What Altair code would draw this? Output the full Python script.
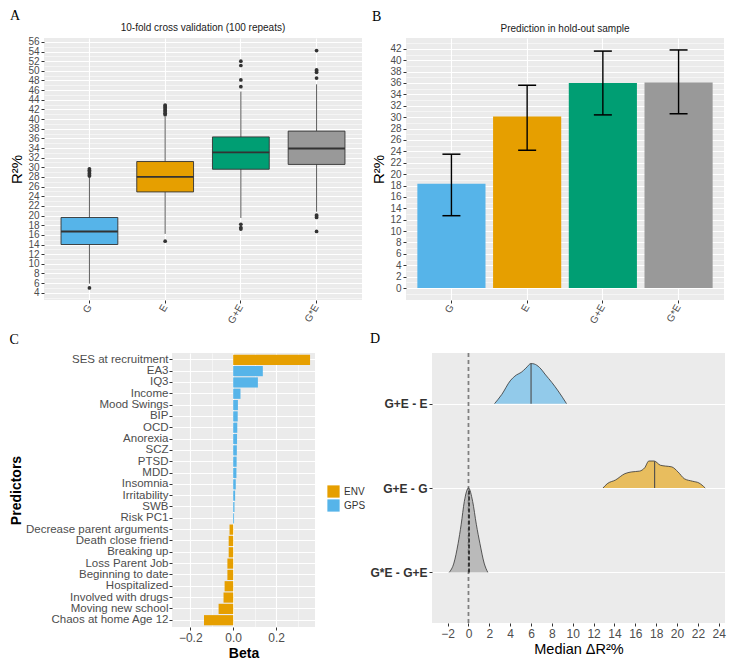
import altair as alt
import pandas as pd
import numpy as np

# ---------------- Panel A : 10-fold CV boxplots ----------------
categories = ["G", "E", "G+E", "G*E"]
fill_colors = ["#56B4E9", "#E69F00", "#009E73", "#999999"]
cv_q1 = [14.0, 24.9, 29.6, 30.6]
cv_median = [16.7, 28.0, 33.1, 33.9]
cv_q3 = [19.6, 31.2, 36.3, 37.5]
cv_whisker_lo = [5.9, 16.2, 19.5, 20.8]
cv_whisker_hi = [28.0, 40.5, 45.7, 47.2]
cv_outliers_G = [5.0, 28.2, 28.4, 28.7, 29.1, 29.4, 29.7]
cv_outliers_E = [14.7, 40.9, 41.2, 41.5, 41.8, 42.1, 42.4, 42.7, 42.9]
cv_outliers_GpE = [17.2, 17.5, 18.2, 46.7, 48.1, 51.1, 52.0]
cv_outliers_GxE = [16.7, 19.6, 19.9, 20.1, 48.5, 49.7, 50.0, 50.2, 54.2]

# ---------------- Panel B : hold-out prediction ----------------
ho_r2 = [18.3, 30.1, 36.0, 36.1]
ho_lo = [12.7, 24.2, 30.4, 30.6]
ho_hi = [23.5, 35.6, 41.6, 41.8]

# ---------------- Panel C : predictor betas ----------------
predictors = ["SES at recruitment", "EA3", "IQ3", "Income", "Mood Swings", "BIP", "OCD",
              "Anorexia", "SCZ", "PTSD", "MDD", "Insomnia", "Irritability", "SWB", "Risk PC1",
              "Decrease parent arguments", "Death close friend", "Breaking up", "Loss Parent Job",
              "Beginning to date", "Hospitalized", "Involved with drugs", "Moving new school",
              "Chaos at home Age 12"]
betas = [0.358, 0.138, 0.115, 0.034, 0.022, 0.021, 0.019, 0.018, 0.017, 0.016, 0.015, 0.012,
         0.009, 0.006, 0.004, -0.017, -0.021, -0.021, -0.027, -0.027, -0.040, -0.045, -0.068,
         -0.136]
pred_type = ["ENV", "GPS", "GPS", "GPS", "GPS", "GPS", "GPS", "GPS", "GPS", "GPS", "GPS", "GPS",
             "GPS", "GPS", "GPS", "ENV", "ENV", "ENV", "ENV", "ENV", "ENV", "ENV", "ENV", "ENV"]
type_names = ["ENV", "GPS"]
type_colors = ["#E69F00", "#56B4E9"]

# ---------------- Panel D : ridges of median delta R2 ----------------
ridge_names = ["G+E - E", "G+E - G", "G*E - G+E"]
ridge_base = [3, 2, 1]
ridge_colors = ["#56B4E9", "#E69F00", "#999999"]
ridge_medians = [6.0, 17.85, 0.05]
blue_x = [2.5, 3.2, 4.0, 4.6, 5.05, 5.5, 6.0, 6.3, 6.8, 7.4, 8.0, 8.6, 9.4]
blue_h = [0.0, 0.11, 0.27, 0.34, 0.37, 0.42, 0.475, 0.47, 0.43, 0.34, 0.25, 0.15, 0.0]
orange_x = [12.9, 13.3, 14.1, 15.0, 15.6, 16.4, 16.9, 17.3, 17.8, 18.4, 18.9, 19.5, 20.1,
            20.7, 21.5, 22.1, 22.7]
orange_h = [0.0, 0.05, 0.095, 0.17, 0.19, 0.20, 0.24, 0.32, 0.32, 0.27, 0.26, 0.25, 0.19,
            0.11, 0.08, 0.06, 0.0]
gray_x = [-1.85, -1.4, -1.0, -0.7, -0.4, 0.0, 0.4, 0.75, 1.1, 1.5, 1.85]
gray_h = [0.0, 0.11, 0.34, 0.57, 0.84, 1.0, 0.84, 0.57, 0.34, 0.11, 0.0]

FONT = "Liberation Sans"
SERIF = "Liberation Serif"
TXT = "#4D4D4D"


def minor_axis(values, test, fmt, **kw):
    return alt.Axis(values=values, format=fmt,
                    labelExpr=f"({test}) ? datum.label : ''",
                    gridWidth={"condition": {"test": test, "value": 1.1}, "value": 0.5},
                    tickOpacity={"condition": {"test": test, "value": 1}, "value": 0},
                    labelOverlap=False, **kw)


def cat_x_axis():
    return alt.Axis(title=None, labelAngle=300, labelFontSize=10, grid=True, gridWidth=1.1,
                    labelPadding=2)


# ---------- A ----------
boxA = pd.DataFrame({"cat": categories, "q1": cv_q1, "med": cv_median, "q3": cv_q3,
                     "wlo": cv_whisker_lo, "whi": cv_whisker_hi})
out_lists = [cv_outliers_G, cv_outliers_E, cv_outliers_GpE, cv_outliers_GxE]
outA = pd.DataFrame([{"cat": c, "val": v} for c, lst in zip(categories, out_lists) for v in lst])

xA = alt.X("cat:N", sort=categories, scale=alt.Scale(paddingInner=0, paddingOuter=0.1),
           axis=cat_x_axis())
scaleA = alt.Scale(domain=[2.5, 56.8], nice=False, zero=False)
axisA = minor_axis(list(range(3, 57)), "datum.value % 2 == 0", "d", title="R²%",
                   titleFontSize=15, titleFontWeight="normal", labelFontSize=10,
                   titlePadding=3)
colA = alt.Color("cat:N", scale=alt.Scale(domain=categories, range=fill_colors), legend=None)


def yA(f):
    return alt.Y(f, scale=scaleA, axis=axisA)


baseA = alt.Chart(boxA)
whisk = baseA.mark_rule(color="#333333", strokeWidth=0.8).encode(x=xA, y=yA("wlo:Q"), y2="whi:Q")
box = baseA.mark_bar(width=alt.RelativeBandSize(0.75), stroke="#333333", strokeWidth=0.9).encode(
    x=xA, y=yA("q1:Q"), y2="q3:Q", color=colA)
med = baseA.mark_bar(width=alt.RelativeBandSize(0.75), stroke="#333333", strokeWidth=1.8).encode(
    x=xA, y=yA("med:Q"), y2="med:Q")
outs = alt.Chart(outA).mark_circle(size=14, color="#333333", opacity=1).encode(x=xA, y=yA("val:Q"))
panelA = alt.layer(whisk, box, med, outs).properties(
    width=318, height=262,
    title=alt.TitleParams("10-fold cross validation (100 repeats)", fontSize=10,
                          fontWeight="normal", color="#1a1a1a", anchor="middle", frame="group",
                          offset=4, font=FONT))

# ---------- B ----------
dfB = pd.DataFrame({"cat": categories, "r2": ho_r2, "lo": ho_lo, "hi": ho_hi})
xB = alt.X("cat:N", sort=categories, scale=alt.Scale(paddingInner=0, paddingOuter=0.1),
           axis=cat_x_axis())
scaleB = alt.Scale(domain=[-2.1, 43.9], nice=False, zero=False)
axisB = minor_axis(list(range(-1, 44)), "datum.value % 2 == 0", "d", title="R²%",
                   titleFontSize=15, titleFontWeight="normal", labelFontSize=10,
                   titlePadding=3)


def yB(f):
    return alt.Y(f, scale=scaleB, axis=axisB)


baseB = alt.Chart(dfB)
barsB = baseB.mark_bar(width=alt.RelativeBandSize(0.9)).encode(
    x=xB, y=yB("r2:Q"), y2=alt.datum(0), color=colA)
errB = baseB.mark_rule(color="black", strokeWidth=1.4).encode(x=xB, y=yB("lo:Q"), y2="hi:Q")
capLo = baseB.mark_tick(size=18, thickness=1.5, color="black", opacity=1).encode(x=xB, y=yB("lo:Q"))
capHi = baseB.mark_tick(size=18, thickness=1.5, color="black", opacity=1).encode(x=xB, y=yB("hi:Q"))
panelB = alt.layer(barsB, errB, capLo, capHi).properties(
    width=318, height=262,
    title=alt.TitleParams("Prediction in hold-out sample", fontSize=10, fontWeight="normal",
                          color="#1a1a1a", anchor="middle", frame="group", offset=4, font=FONT))

# ---------- C ----------
dfC = pd.DataFrame({"pred": predictors, "beta": betas, "type": pred_type})
panelC = alt.Chart(dfC).mark_bar().encode(
    y=alt.Y("pred:N", sort=predictors,
            scale=alt.Scale(paddingInner=0.1, paddingOuter=0.15),
            axis=alt.Axis(title="Predictors", titleFontSize=14, titleFontWeight="bold",
                          labelFontSize=11.5, grid=True, gridWidth=1.1, labelPadding=1,
                          titlePadding=2, labelLimit=300)),
    x=alt.X("beta:Q", scale=alt.Scale(domain=[-0.285, 0.381], nice=False, zero=False),
            axis=minor_axis([-0.2, -0.1, 0.0, 0.1, 0.2, 0.3],
                            "abs(round(datum.value*10)) % 2 == 0", ".1f",
                            title="Beta", titleFontSize=14, titleFontWeight="bold",
                            labelFontSize=12, titlePadding=3)),
    x2=alt.datum(0),
    color=alt.Color("type:N", scale=alt.Scale(domain=type_names, range=type_colors),
                    legend=alt.Legend(title=None, orient="none", legendX=155, legendY=132,
                                      symbolType="square", symbolSize=150,
                                      symbolStrokeWidth=0, labelFontSize=10,
                                      labelColor="#333333", rowPadding=1, labelFont=FONT)),
).properties(width=143, height=274)

# ---------- D ----------
ridge_rows = []
med_rows = []
for name, base, xs, hs, m in zip(ridge_names, ridge_base, [blue_x, orange_x, gray_x],
                                 [blue_h, orange_h, gray_h], ridge_medians):
    for xv, hv in zip(xs, hs):
        ridge_rows.append({"ridge": name, "x": xv, "top": base + hv, "base": base})
    med_rows.append({"ridge": name, "x": m, "base": base, "top": base + float(np.interp(m, xs, hs))})
dfD = pd.DataFrame(ridge_rows)
dfM = pd.DataFrame(med_rows)

label_expr = " : ".join(f"datum.value == {b} ? '{n}'" for n, b in zip(ridge_names, ridge_base)) + " : ''"
scaleDx = alt.Scale(domain=[-3.5, 24.6], nice=False, zero=False)
scaleDy = alt.Scale(domain=[0.4, 3.6], nice=False, zero=False)
axisDx = minor_axis(list(range(-3, 25)), "abs(datum.value) % 2 == 0", "d",
                    title="Median ΔR²%", titleFontSize=14.5, titleFontWeight="normal",
                    labelFontSize=12, titlePadding=3)
axisDy = alt.Axis(values=ridge_base, labelExpr=label_expr, title=None, labelFontWeight="bold",
                  labelColor="#333333", labelFontSize=12, gridWidth=1.1, labelPadding=2)


def xD(f):
    return alt.X(f, scale=scaleDx, axis=axisDx)


def yD(f):
    return alt.Y(f, scale=scaleDy, axis=axisDy)


colD = alt.Color("ridge:N", scale=alt.Scale(domain=ridge_names, range=ridge_colors), legend=None)
zero_line = alt.Chart(dfM).mark_rule(strokeDash=[4, 3], color="#808080", strokeWidth=1.3).encode(
    x=alt.X(datum=0, scale=scaleDx, axis=axisDx))
areas = alt.Chart(dfD).mark_area(opacity=0.6, orient="vertical", interpolate="monotone").encode(
    x=xD("x:Q"), y=yD("top:Q"), y2=alt.Y2("base:Q"), color=colD)
lines = alt.Chart(dfD).mark_line(color="#333333", strokeWidth=0.8, interpolate="monotone").encode(
    x=xD("x:Q"), y=yD("top:Q"), detail="ridge:N")
med_solid = alt.Chart(dfM).transform_filter(f"datum.ridge != '{ridge_names[2]}'").mark_rule(
    color="#4D4D4D", strokeWidth=1.1).encode(x=xD("x:Q"), y=yD("base:Q"), y2="top:Q")
med_dash = alt.Chart(dfM).transform_filter(f"datum.ridge == '{ridge_names[2]}'").mark_rule(
    color="black", strokeWidth=1.3, strokeDash=[4, 2]).encode(x=xD("x:Q"), y=yD("base:Q"), y2="top:Q")
panelD = alt.layer(zero_line, areas, lines, med_solid, med_dash).properties(width=293, height=270)


def lettered(ch, letter, offset):
    return alt.vconcat(ch, spacing=0, title=alt.TitleParams(
        letter, anchor="start", font=SERIF, fontSize=14, fontWeight="normal", color="black",
        offset=offset)).resolve_scale(color="independent")


def spacer(w):
    return alt.Chart(pd.DataFrame({"v": [0]})).mark_rule(opacity=0).encode(
        x=alt.value(0), y=alt.value(0)).properties(
        width=w, height=1, view=alt.ViewBackground(fill=None, stroke=None))


row1 = alt.hconcat(spacer(1), lettered(panelA, "A", 0), spacer(9), lettered(panelB, "B", 0),
                   spacing=0).resolve_scale(color="independent")
row2 = alt.hconcat(spacer(1), lettered(panelC, "C", 6), spacer(3), lettered(panelD, "D", 6),
                   spacing=0).resolve_scale(color="independent")

chart = alt.vconcat(row1, row2, spacing=6).resolve_scale(color="independent").properties(
    padding={"left": 0, "top": 0, "right": 2, "bottom": 2}
).configure_view(fill="#EBEBEB", stroke=None).configure_axis(
    labelFont=FONT, titleFont=FONT, labelColor=TXT, tickColor="#333333", tickSize=3,
    domain=False, gridColor="white", titleColor="black"
).configure_title(font=FONT)

chart.save("out.html", embed_options={"renderer": "svg", "actions": False})
